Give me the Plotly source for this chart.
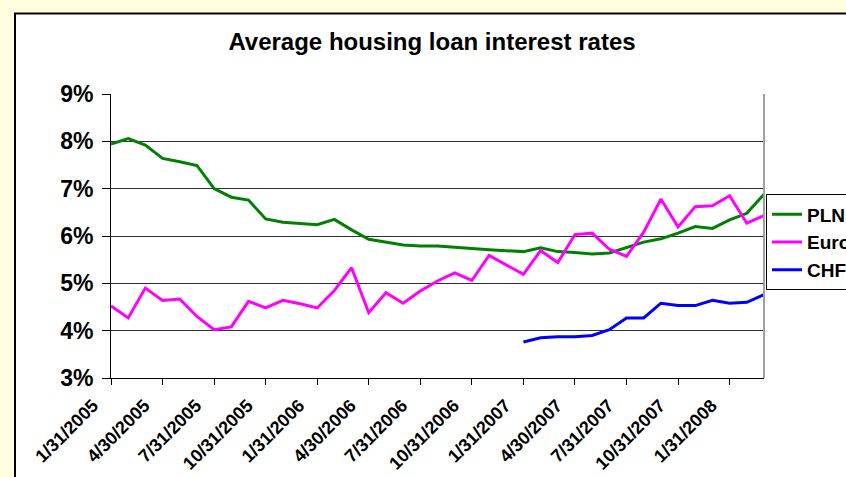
import plotly.graph_objects as go

dates = [
    "1/31/2005", "2/28/2005", "3/31/2005", "4/30/2005", "5/31/2005", "6/30/2005",
    "7/31/2005", "8/31/2005", "9/30/2005", "10/31/2005", "11/30/2005", "12/31/2005",
    "1/31/2006", "2/28/2006", "3/31/2006", "4/30/2006", "5/31/2006", "6/30/2006",
    "7/31/2006", "8/31/2006", "9/30/2006", "10/31/2006", "11/30/2006", "12/31/2006",
    "1/31/2007", "2/28/2007", "3/31/2007", "4/30/2007", "5/31/2007", "6/30/2007",
    "7/31/2007", "8/31/2007", "9/30/2007", "10/31/2007", "11/30/2007", "12/31/2007",
    "1/31/2008", "2/29/2008", "3/31/2008",
]

pln = [7.94, 8.06, 7.92, 7.64, 7.57, 7.49, 7.00, 6.82, 6.76, 6.36,
       6.29, 6.27, 6.24, 6.35, 6.13, 5.93, 5.87, 5.81, 5.79, 5.79,
       5.76, 5.73, 5.71, 5.69, 5.67, 5.75, 5.67, 5.65, 5.62, 5.64,
       5.76, 5.87, 5.94, 6.06, 6.20, 6.16, 6.34, 6.48, 6.88]

euro = [4.52, 4.27, 4.90, 4.64, 4.67, 4.30, 4.02, 4.08, 4.62, 4.48,
        4.64, 4.57, 4.48, 4.85, 5.33, 4.38, 4.80, 4.58, 4.84, 5.05,
        5.22, 5.06, 5.59, 5.39, 5.19, 5.69, 5.44, 6.03, 6.06, 5.72,
        5.57, 6.08, 6.78, 6.19, 6.62, 6.64, 6.85, 6.27, 6.43]

chf = [None] * 24 + [3.76, 3.85, 3.87, 3.87, 3.90, 4.02, 4.27, 4.27, 4.58,
                     4.53, 4.53, 4.64, 4.58, 4.60, 4.76]

tick_labels = dates[::3]
y_ticks = [3, 4, 5, 6, 7, 8, 9]

FONT = "Arial, Liberation Sans, sans-serif"

fig = go.Figure()
fig.add_trace(go.Scatter(x=dates, y=pln, name="<b>PLN</b>", mode="lines",
                         line=dict(color="#008000", width=3)))
fig.add_trace(go.Scatter(x=dates, y=euro, name="<b>Euro</b>", mode="lines",
                         line=dict(color="#FF00FF", width=3)))
fig.add_trace(go.Scatter(x=dates, y=chf, name="<b>CHF</b>", mode="lines",
                         line=dict(color="#0000FF", width=3)))

# chart area frame (white box with black border, extends past page edge)
L, R, T, B = 111, 764, 93.5, 377.7
pw, ph = R - L, B - T
def px(x):
    return (x - L) / pw
def py(y):
    return (B - y) / ph

fig.add_shape(type="rect", xref="paper", yref="paper",
              x0=px(15), x1=px(900), y0=py(13), y1=py(520),
              fillcolor="white", line=dict(color="black", width=2), layer="below")
fig.add_shape(type="line", xref="paper", yref="paper",
              x0=1, x1=1, y0=0, y1=1, line=dict(color="#A0A0A0", width=2))

fig.update_layout(
    width=846, height=477,
    margin=dict(l=L, r=846 - R, t=T, b=477 - B, autoexpand=False),
    paper_bgcolor="#FFFFE0",
    plot_bgcolor="rgba(0,0,0,0)",
    font=dict(family=FONT, color="black"),
    title=dict(text="<b>Average housing loan interest rates</b>",
               x=432 / 846, xanchor="center", y=1 - 42 / 477, yanchor="middle",
               font=dict(size=24, family=FONT, color="black")),
    showlegend=True,
    legend=dict(x=px(766), xanchor="left", y=py(194), yanchor="top",
                bgcolor="white", bordercolor="black", borderwidth=1,
                font=dict(size=19, family=FONT, color="black"),
                tracegroupgap=0),
    xaxis=dict(type="category", categoryorder="array", categoryarray=dates,
               range=[0, len(dates) - 1],
               tickmode="array", tickvals=tick_labels,
               ticktext=["<b>%s</b>" % t for t in tick_labels],
               tickangle=-45, ticks="outside", ticklen=6, tickcolor="black",
               ticklabelshift=-18, ticklabelstandoff=3,
               showline=True, linecolor="black", linewidth=1,
               showgrid=False, zeroline=False,
               tickfont=dict(size=18, family=FONT, color="black")),
    yaxis=dict(range=[3, 9], tickmode="array", tickvals=y_ticks,
               ticktext=["<b>%d%%</b>" % v for v in y_ticks],
               ticks="outside", ticklen=8, tickcolor="black",
               ticklabelstandoff=4,
               showline=True, linecolor="black", linewidth=1,
               showgrid=True, gridcolor="#303030", gridwidth=1,
               zeroline=False,
               tickfont=dict(size=23, family=FONT, color="black")),
)

fig.write_html("out.html")
